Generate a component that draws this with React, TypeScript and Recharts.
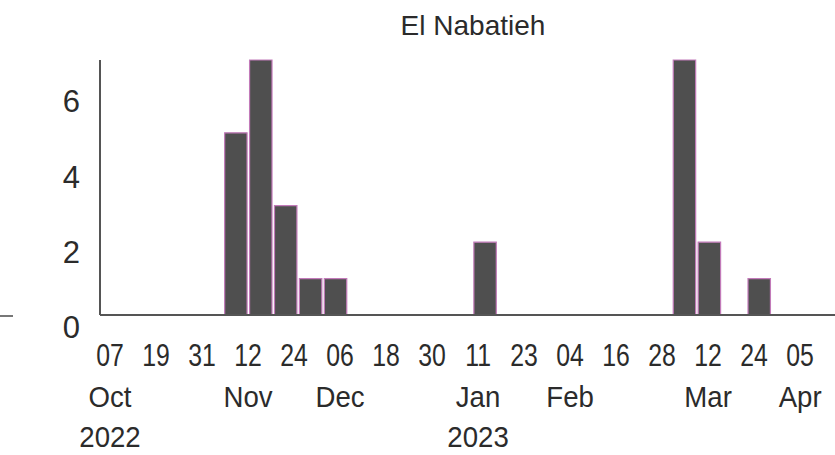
import { BarChart, Bar, XAxis, YAxis } from 'recharts';

// histogram bins: centre of each bin in days after 07 Oct 2022, and the count in it
const binDays = [32.9, 39.4, 45.9, 52.4, 58.9, 97.9, 149.9, 156.4, 169.4];
const counts = [5, 7, 3, 1, 1, 2, 7, 2, 1];

// x axis ticks (days after 07 Oct 2022) and their three label rows
const tickDays = [0, 12, 24, 36, 48, 60, 72, 84, 96, 108, 120, 132, 144, 156, 168, 180];
const dayLabels = ['07', '19', '31', '12', '24', '06', '18', '30', '11', '23', '04', '16', '28', '12', '24', '05'];
const monthLabels = ['Oct', '', '', 'Nov', '', 'Dec', '', '', 'Jan', '', 'Feb', '', '', 'Mar', '', 'Apr'];
const yearLabels = ['2022', '', '', '', '', '', '', '', '2023', '', '', '', '', '', '', ''];

const yTicks = [0, 2, 4, 6];

const data = binDays.map((d, i) => ({ day: d, count: counts[i] }));

const FONT = '"Liberation Sans", Arial, sans-serif';
const TEXT = '#2b2b2b';

const XTick = ({ x, y, payload }: any) => {
    const i = tickDays.indexOf(payload.value);
    return (
        <g transform={`translate(${x},${y})`} fill={TEXT} fontFamily={FONT}>
            <text y={51} textAnchor="middle" fontSize={31} transform="scale(0.8,1)">{dayLabels[i]}</text>
            <text y={92} textAnchor="middle" fontSize={30} transform="scale(0.92,1)">{monthLabels[i]}</text>
            <text y={132} textAnchor="middle" fontSize={30} transform="scale(0.92,1)">{yearLabels[i]}</text>
        </g>
    );
};

const YTick = ({ x, y, payload }: any) => {
    const v = payload.value;
    return (
        <text x={x} y={y + 23 - v * 7 / 6} textAnchor="end" fontSize={31} fill={TEXT} fontFamily={FONT}>
            {v}
        </text>
    );
};

export default function App() {
    return (
        <div style={{ position: 'absolute', left: 0, top: 0, width: 835, height: 455, background: '#fff' }}>
            <div
                style={{
                    position: 'absolute',
                    left: 0,
                    width: 946,
                    top: 10,
                    textAlign: 'center',
                    fontFamily: FONT,
                    fontSize: 28,
                    color: TEXT,
                    lineHeight: '32px',
                }}
            >
                El Nabatieh
            </div>
            <div style={{ position: 'absolute', left: 0, top: 315, width: 13, height: 2, background: '#777' }} />
            <BarChart width={835} height={455} data={data} margin={{ top: 60, right: 0, left: 0, bottom: 0 }}>
                <XAxis
                    type="number"
                    dataKey="day"
                    domain={[-2.6, 189.1]}
                    ticks={tickDays}
                    interval={0}
                    allowDataOverflow
                    height={140}
                    tickLine={false}
                    tickSize={0}
                    tickMargin={0}
                    axisLine={{ stroke: '#555', strokeWidth: 2 }}
                    tick={<XTick />}
                />
                <YAxis
                    type="number"
                    domain={[0, 7]}
                    ticks={yTicks}
                    width={100}
                    tickLine={false}
                    tickSize={0}
                    tickMargin={20}
                    axisLine={{ stroke: '#555', strokeWidth: 2 }}
                    tick={<YTick />}
                />
                <Bar
                    dataKey="count"
                    barSize={25}
                    fill="#4f4f4f"
                    stroke="#c27ab9"
                    strokeWidth={1.2}
                    isAnimationActive={false}
                />
            </BarChart>
        </div>
    );
}
